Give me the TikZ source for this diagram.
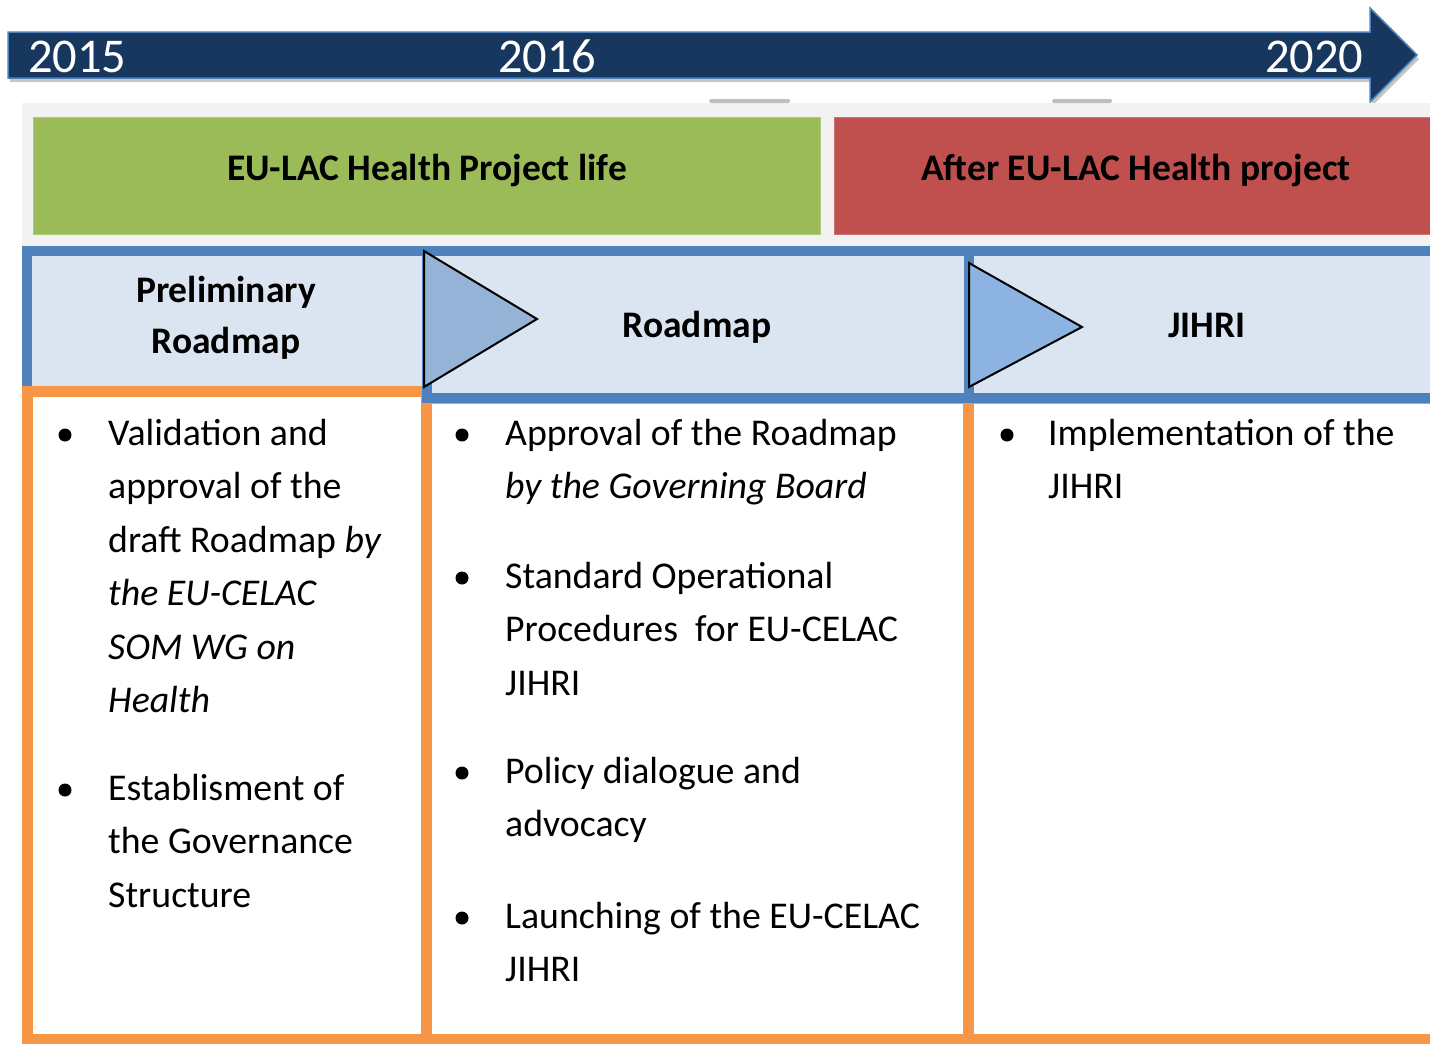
\documentclass[tikz,border=0pt]{standalone}
\usepackage{fontspec}
\setmainfont{Carlito}
\usetikzlibrary{shadows}

\definecolor{navy}{HTML}{17375E}
\definecolor{ltblue}{HTML}{4F81BD}
\definecolor{paleblue}{HTML}{DBE5F1}
\definecolor{greenbox}{HTML}{9BBB59}
\definecolor{redbox}{HTML}{C0504D}
\definecolor{orangeline}{HTML}{F79646}
\definecolor{panelgray}{HTML}{F2F2F2}
\definecolor{triA}{HTML}{95B3D7}
\definecolor{triB}{HTML}{8DB3E2}

\begin{document}
\begin{tikzpicture}[x=1pt,y=-1pt,
    year/.style={anchor=base west, inner sep=0pt, text=white, font=\fontsize{48.5}{50}\selectfont},
    head/.style={anchor=base, inner sep=0pt, align=center, font=\bfseries\fontsize{37.5}{51}\selectfont},
    body/.style={anchor=base west, inner sep=0pt, align=left, font=\fontsize{37.8}{53.5}\selectfont},
    dot/.style={circle, fill=black, inner sep=0pt, minimum size=13pt}]
  \clip (0,0) rectangle (1430,1044);

  % time line
  \draw[fill=navy, draw=ltblue, line width=1.5,
        drop shadow={shadow xshift=2pt, shadow yshift=-4pt, opacity=0.45}]
    (8,32) -- (1370,32) -- (1370,8) -- (1417,55) -- (1370,102) -- (1370,78) -- (8,78) -- cycle;
  \node[year] (y2015) at (28,72) {2015};
  \node[year] (y2016) at (498,72) {2016};
  \node[year] (y2020) at (1265,72) {2020};

  % project phases
  \fill[panelgray] (22,103) rectangle (1445,246);
  \fill[gray!50, rounded corners=1.5] (709,99) rectangle (790,103);
  \fill[gray!50, rounded corners=1.5] (1052,99) rectangle (1112,103);
  \draw[fill=greenbox, draw=greenbox!80!white] (33,117) rectangle (820,234);
  \draw[fill=redbox, draw=redbox!80!white] (834,117) rectangle (1445,234);
  \node[head] (life) at (427,180) {EU-LAC Health Project life};
  \node[head] (after) at (1136,180) {After EU-LAC Health project};

  % header row and columns
  \draw[fill=paleblue, draw=ltblue, line width=10] (26.5,251) rectangle (426.5,391.5);
  \draw[orangeline, line width=11] (27.5,391.5) rectangle (426.5,1039.5);
  \draw[orangeline, line width=11] (426.5,398) rectangle (968.5,1039.5);
  \draw[orangeline, line width=11] (968.5,398) rectangle (1450,1039.5);
  \draw[fill=paleblue, draw=ltblue, line width=10] (426.5,251) rectangle (968.5,398);
  \draw[fill=paleblue, draw=ltblue, line width=10] (968.5,251) rectangle (1450,398);

  \draw[fill=triA, line width=2] (424,251) -- (537,319) -- (424,387) -- cycle;
  \draw[fill=triB, line width=2] (969,263) -- (1082,327) -- (969,387) -- cycle;

  % (multi-line nodes sit on their last baseline)
  \node[head] (prelim) at (226,353) {Preliminary\\Roadmap};
  \node[head] (roadmap) at (697,337) {Roadmap};
  \node[head] (jihri) at (1207,337) {JIHRI};

  % column 1
  \node[dot] (d1) at (65,435) {};
  \node[body] (valid) at (108,712.5) {Validation and\\approval of the\\draft Roadmap \textit{by}\\\textit{the EU-CELAC}\\\textit{SOM WG on}\\\textit{Health}};
  \node[dot] (d2) at (65,790) {};
  \node[body] (estab) at (108,907) {Establisment of\\the Governance\\Structure};

  % column 2
  \node[dot] (d3) at (462,435) {};
  \node[body] (approv) at (505,498.5) {Approval of the Roadmap\\\textit{by the Governing Board}};
  \node[dot] (d4) at (462,578) {};
  \node[body] (sop) at (505,695) {Standard Operational\\Procedures\ \ for EU-CELAC\\JIHRI};
  \node[dot] (d5) at (462,773) {};
  \node[body] (policy) at (505,836.5) {Policy dialogue and\\advocacy};
  \node[dot] (d6) at (462,918) {};
  \node[body] (launch) at (505,981.5) {Launching of the EU-CELAC\\JIHRI};

  % column 3
  \node[dot] (d7) at (1007,435) {};
  \node[body] (implem) at (1048,498.5) {Implementation of the\\JIHRI};
\end{tikzpicture}
\end{document}
